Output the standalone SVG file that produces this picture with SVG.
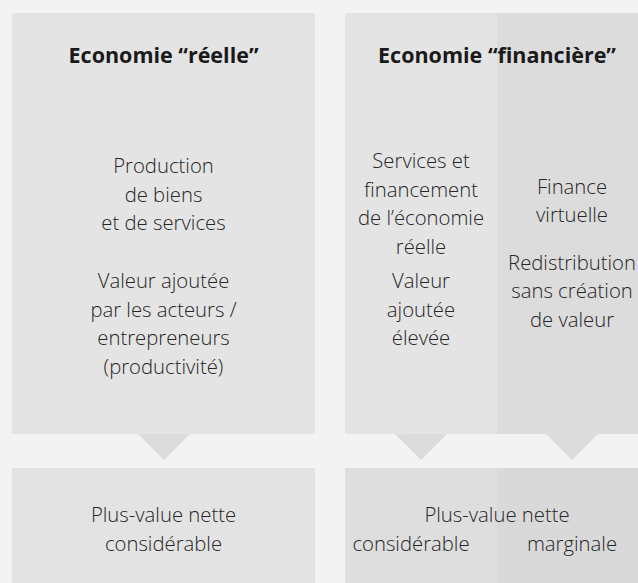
<svg xmlns="http://www.w3.org/2000/svg" width="638" height="583" viewBox="0 0 638 583">
  <style>
    .bg { fill: #f3f3f3; }
    .panel { fill: #e3e4e3; }
    .panel-dark { fill: #dcdcdc; }
    .result { fill: #e2e3e2; }
    .result-mid { fill: #dedede; }
    .result-dark { fill: #d9d9d9; }
    .tri { fill: #dcdcdc; }
    .head { font-family: "Open Sans", "Liberation Sans", sans-serif; font-weight: 700; font-size: 21.5px; fill: #1a1a1a; text-anchor: middle; }
    .body { font-family: "Open Sans", "Liberation Sans", sans-serif; font-weight: 300; font-size: 20.3px; fill: #262626; text-anchor: middle; }
  </style>

  <rect class="bg" x="0" y="0" width="638" height="583"/>

  <!-- Left column: real economy -->
  <g id="reelle">
    <rect class="panel" x="12" y="13" width="303" height="421"/>
    <text class="head" x="163.5" y="63">Economie “réelle”</text>
    <text class="body" x="163.5" y="173">Production</text>
    <text class="body" x="163.5" y="202">de biens</text>
    <text class="body" x="163.5" y="230">et de services</text>
    <text class="body" x="163.5" y="288">Valeur ajoutée</text>
    <text class="body" x="163.5" y="317">par les acteurs /</text>
    <text class="body" x="163.5" y="345">entrepreneurs</text>
    <text class="body" x="163.5" y="374">(productivité)</text>
  </g>

  <!-- Right column: financial economy, two sub-columns -->
  <g id="financiere">
    <rect class="panel" x="345" y="13" width="152" height="421"/>
    <rect class="panel-dark" x="497" y="13" width="141" height="421"/>
    <text class="head" x="497" y="63">Economie “financière”</text>
    <text class="body" x="421" y="168">Services et</text>
    <text class="body" x="421" y="197">financement</text>
    <text class="body" x="421" y="225">de l’économie</text>
    <text class="body" x="421" y="254">réelle</text>
    <text class="body" x="421" y="288">Valeur</text>
    <text class="body" x="421" y="317">ajoutée</text>
    <text class="body" x="421" y="345">élevée</text>
    <text class="body" x="572" y="194">Finance</text>
    <text class="body" x="572" y="222">virtuelle</text>
    <text class="body" x="572" y="270">Redistribution</text>
    <text class="body" x="572" y="298">sans création</text>
    <text class="body" x="572" y="327">de valeur</text>
  </g>

  <!-- Downward pointers -->
  <g id="connectors">
    <polygon class="tri" points="138,434 190,434 164,460"/>
    <polygon class="tri" points="395,434 447,434 421,460"/>
    <polygon class="tri" points="546,434 598,434 572,460"/>
  </g>

  <!-- Outcomes -->
  <g id="plus-value-reelle">
    <rect class="result" x="12" y="468" width="303" height="115"/>
    <text class="body" x="163.5" y="522">Plus-value nette</text>
    <text class="body" x="163.5" y="551">considérable</text>
  </g>

  <g id="plus-value-financiere">
    <rect class="result-mid" x="345" y="468" width="152" height="115"/>
    <rect class="result-dark" x="497" y="468" width="141" height="115"/>
    <text class="body" x="497" y="522">Plus-value nette</text>
    <text class="body" x="411" y="551">considérable</text>
    <text class="body" x="572" y="551">marginale</text>
  </g>
</svg>
